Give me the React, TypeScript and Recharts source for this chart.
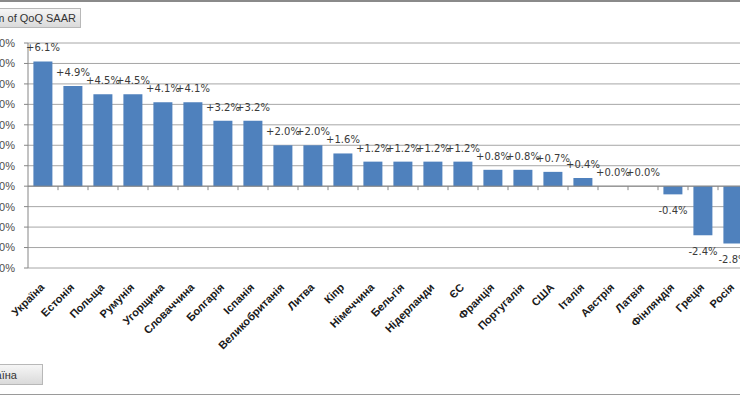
import React from 'react';
import { ComposedChart, Bar, Line, XAxis, YAxis, CartesianGrid, ReferenceLine, LabelList } from 'recharts';

const countries = ['Україна', 'Естонія', 'Польща', 'Румунія', 'Угорщина', 'Словаччина', 'Болгарія', 'Іспанія', 'Великобританія', 'Литва', 'Кіпр', 'Німеччина', 'Бельгія', 'Нідерланди', 'ЄС', 'Франція', 'Португалія', 'США', 'Італія', 'Австрія', 'Латвія', 'Фінляндія', 'Греція', 'Росія'];
const qoqSaar = [6.1, 4.9, 4.5, 4.5, 4.1, 4.1, 3.2, 3.2, 2.0, 2.0, 1.6, 1.2, 1.2, 1.2, 1.2, 0.8, 0.8, 0.7, 0.4, 0.0, 0.0, -0.4, -2.4, -2.8];
const yTicks = [-4, -3, -2, -1, 0, 1, 2, 3, 4, 5, 6, 7];
const fieldTitle = 'Sum of QoQ SAAR';
const axisField = 'Країна';

const data = countries.map((name, i) => ({ name, value: qoqSaar[i] }));

const fmtLabel = (v: number) => `${v >= 0 ? '+' : ''}${v.toFixed(1)}%`;

const CategoryTick = (props: any) => {
  const { x, y, payload } = props;
  const ax = x + 2;
  const ay = y + 20;
  return (
    <text
      x={ax}
      y={ay}
      textAnchor="end"
      transform={`rotate(-45 ${ax} ${ay})`}
      fontFamily="'Liberation Sans', Arial, sans-serif"
      fontWeight="bold"
      fontSize={11}
      fill="#1a1a1a"
    >
      {payload.value}
    </text>
  );
};

const ZeroAxis = (props: any) => {
  const { x1, y1, x2 } = props;
  const n = countries.length;
  const step = (x2 - x1) / n;
  const ticks = [];
  for (let i = 1; i <= n; i++) {
    const tx = x1 + i * step;
    ticks.push(<line key={i} x1={tx} x2={tx} y1={y1} y2={y1 + 4} stroke="#868686" strokeWidth={1} />);
  }
  return (
    <g>
      <line x1={x1} x2={x2} y1={y1} y2={y1} stroke="#868686" strokeWidth={1} />
      {ticks}
    </g>
  );
};

const ValueLabel = (props: any) => {
  const vb = props.viewBox && props.viewBox.x !== undefined ? props.viewBox : props;
  const x = vb.x;
  const y = vb.y;
  const value = Number(props.value);
  const ty = value < 0 ? y + 20 : y - 10;
  return (
    <text x={x} y={ty} textAnchor="middle" fontFamily="'DejaVu Sans', sans-serif" fontSize={10} fill="#3a3a3a">
      {fmtLabel(value)}
    </text>
  );
};

export default function App() {
  return (
    <div style={{ position: 'fixed', left: 0, top: 0, width: 740, height: 400, overflow: 'hidden', background: '#fff' }}>
      <div style={{ position: 'absolute', left: 0, top: 0, width: 740, height: 2, background: '#8a8a8a' }} />
      <div style={{ position: 'absolute', left: 0, top: 394, width: 740, height: 1, background: '#9a9a9a' }} />
      <div style={{ position: 'absolute', left: 0, top: 0 }}>
        <ComposedChart width={748} height={400} data={data} margin={{ top: 43, right: 0, bottom: 102, left: 0 }} barCategoryGap="18%">
          <CartesianGrid horizontal vertical={false} stroke="#a6a6a6" />
          <XAxis dataKey="name" height={30} interval={0} axisLine={false} tickLine={false} tickSize={0} tickMargin={0} tick={<CategoryTick />} />
          <YAxis
            domain={[-4, 7]}
            ticks={yTicks}
            interval={0}
            allowDataOverflow
            width={28}
            tickSize={4}
            tickMargin={9}
            axisLine={{ stroke: '#868686' }}
            tickLine={{ stroke: '#868686' }}
            tick={{ fill: '#4d4d4d', fontSize: 11, fontFamily: "'Liberation Sans', Arial, sans-serif" }}
            tickFormatter={(v: number) => `${v.toFixed(1)}%`}
          />
          <ReferenceLine y={0} shape={<ZeroAxis />} />
          <Bar dataKey="value" fill="#4F81BD" isAnimationActive={false} />
          <Line dataKey="value" stroke="none" dot={false} activeDot={false} legendType="none" isAnimationActive={false}>
            <LabelList dataKey="value" content={<ValueLabel />} />
          </Line>
        </ComposedChart>
      </div>
      <div
        style={{
          position: 'absolute', left: -40, top: 8, width: 121, height: 20, boxSizing: 'border-box',
          background: 'linear-gradient(#f6f6f6, #dadada)', border: '1px solid #b8b8b8',
          fontFamily: "'Liberation Sans', Arial, sans-serif", fontSize: 11, color: '#333',
          textAlign: 'right', paddingRight: 4, lineHeight: '18px', whiteSpace: 'nowrap',
        }}
      >
        {fieldTitle}
      </div>
      <div
        style={{
          position: 'absolute', left: -40, top: 364, width: 83, height: 21, boxSizing: 'border-box',
          background: 'linear-gradient(#f6f6f6, #dadada)', border: '1px solid #b8b8b8',
          fontFamily: "'Liberation Sans', Arial, sans-serif", fontSize: 11, color: '#333',
          textAlign: 'right', paddingRight: 25, lineHeight: '20px', whiteSpace: 'nowrap',
        }}
      >
        {axisField}
      </div>
    </div>
  );
}
